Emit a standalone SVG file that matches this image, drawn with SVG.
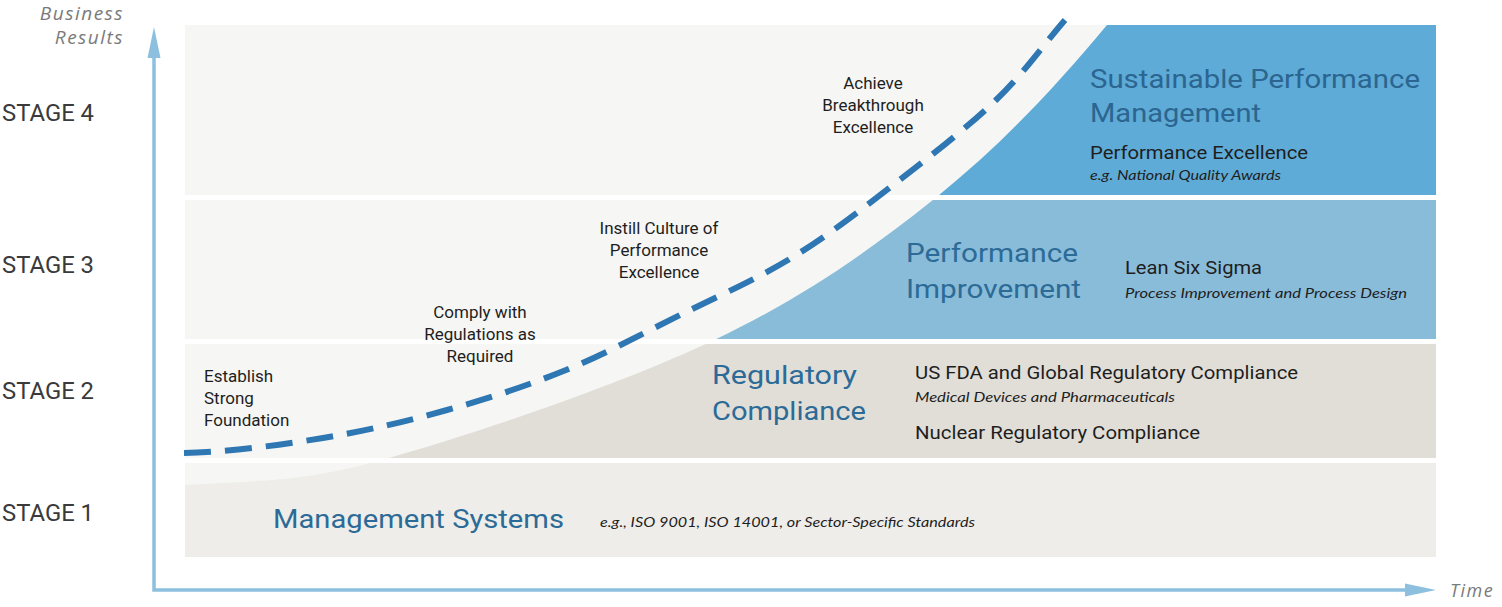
<svg xmlns="http://www.w3.org/2000/svg" width="1502" height="607" viewBox="0 0 1502 607">
<style>
.light{fill:#f6f6f4}
.din{font-family:Roboto,"Liberation Sans",sans-serif}
.stage{font-size:24px;fill:#3a3a3a}
.title{font-size:26px;fill:#2c6b97}
.lbl{font-size:17px;fill:#1e1e1e}
.sub{font-size:18px;fill:#1e1e1e}
.it{font-family:Lato,"Open Sans",sans-serif;font-style:italic;font-size:14px;fill:#1e1e1e}
.axl{font-family:"Open Sans",Lato,sans-serif;font-style:italic;font-size:19px;fill:#7a7a7a;letter-spacing:1.5px}
.ax{stroke:#8cc0de;stroke-width:3.5;fill:none}
.axh{fill:#8cc0de}
</style>
<defs>
<path id="region" d="M185,485 C250,480 292.3,484.4 380,460.5 C467.7,436.6 618.3,385.3 711,341.5 C803.7,297.7 870,250.25 936,197.5 C1002,144.75 1057,85 1107,25 L1160,-40 L1500,-40 L1500,600 L150,600 L150,485 Z"/>
<clipPath id="c4"><rect x="185" y="25" width="1251" height="170"/></clipPath>
<clipPath id="c3"><rect x="185" y="200" width="1251" height="139"/></clipPath>
<clipPath id="c2"><rect x="185" y="344" width="1251" height="114"/></clipPath>
<clipPath id="c1"><rect x="185" y="463" width="1251" height="94"/></clipPath>
</defs>
<rect width="1502" height="607" fill="#ffffff"/>

<g id="stage4">
<rect class="light" x="185" y="25" width="1251" height="170"/>
<use href="#region" fill="#5eabd7" clip-path="url(#c4)"/>
<text class="din stage" x="2" y="121" textLength="92" lengthAdjust="spacingAndGlyphs">STAGE 4</text>
<text class="din title" x="1090" y="88" fill="#2b6590" textLength="330" lengthAdjust="spacingAndGlyphs" style="fill:#2b6590">Sustainable Performance</text>
<text class="din title" x="1090" y="122" textLength="171" lengthAdjust="spacingAndGlyphs" style="fill:#2b6590">Management</text>
<text class="din sub" x="1090" y="159" textLength="218" lengthAdjust="spacingAndGlyphs">Performance Excellence</text>
<text class="it" x="1090" y="180" textLength="191" lengthAdjust="spacingAndGlyphs">e.g. National Quality Awards</text>
<text class="din lbl" x="873" y="89" text-anchor="middle">Achieve</text>
<text class="din lbl" x="873" y="111" text-anchor="middle">Breakthrough</text>
<text class="din lbl" x="873" y="133" text-anchor="middle">Excellence</text>
</g>

<g id="stage3">
<rect class="light" x="185" y="200" width="1251" height="139"/>
<use href="#region" fill="#89bcd9" clip-path="url(#c3)"/>
<text class="din stage" x="2" y="273" textLength="92" lengthAdjust="spacingAndGlyphs">STAGE 3</text>
<text class="din title" x="906" y="262" textLength="172" lengthAdjust="spacingAndGlyphs">Performance</text>
<text class="din title" x="906" y="298" textLength="175" lengthAdjust="spacingAndGlyphs">Improvement</text>
<text class="din sub" x="1125" y="274" textLength="137" lengthAdjust="spacingAndGlyphs">Lean Six Sigma</text>
<text class="it" x="1125" y="298" textLength="282" lengthAdjust="spacingAndGlyphs">Process Improvement and Process Design</text>
<text class="din lbl" x="659" y="234" text-anchor="middle">Instill Culture of</text>
<text class="din lbl" x="659" y="256" text-anchor="middle">Performance</text>
<text class="din lbl" x="659" y="278" text-anchor="middle">Excellence</text>
<text class="din lbl" x="480" y="318" text-anchor="middle">Comply with</text>
</g>

<g id="stage2">
<rect class="light" x="185" y="344" width="1251" height="114"/>
<use href="#region" fill="#e1ded8" clip-path="url(#c2)"/>
<text class="din stage" x="2" y="399" textLength="92" lengthAdjust="spacingAndGlyphs">STAGE 2</text>
<text class="din title" x="712" y="384" textLength="145" lengthAdjust="spacingAndGlyphs">Regulatory</text>
<text class="din title" x="712" y="420" textLength="154" lengthAdjust="spacingAndGlyphs">Compliance</text>
<text class="din sub" x="915" y="379" textLength="383" lengthAdjust="spacingAndGlyphs">US FDA and Global Regulatory Compliance</text>
<text class="it" x="915" y="402" textLength="260" lengthAdjust="spacingAndGlyphs">Medical Devices and Pharmaceuticals</text>
<text class="din sub" x="915" y="439" textLength="285" lengthAdjust="spacingAndGlyphs">Nuclear Regulatory Compliance</text>
<text class="din lbl" x="480" y="340" text-anchor="middle">Regulations as</text>
<text class="din lbl" x="480" y="362" text-anchor="middle">Required</text>
<text class="din lbl" x="204" y="382">Establish</text>
<text class="din lbl" x="204" y="404">Strong</text>
<text class="din lbl" x="204" y="426">Foundation</text>
</g>

<g id="stage1">
<rect class="light" x="185" y="463" width="1251" height="94"/>
<use href="#region" fill="#eeede9" clip-path="url(#c1)"/>
<text class="din stage" x="2" y="521" textLength="92" lengthAdjust="spacingAndGlyphs">STAGE 1</text>
<text class="din title" x="273" y="528" textLength="291" lengthAdjust="spacingAndGlyphs">Management Systems</text>
<text class="it" x="600" y="527" textLength="375" lengthAdjust="spacingAndGlyphs">e.g., ISO 9001, ISO 14001, or Sector-Specific Standards</text>
</g>

<g id="connectors">
<path d="M184,453 C230.3,451.7 279.2,445.2 323,438 C366.8,430.8 406.5,421.3 447,410 C487.5,398.7 527.2,385.8 566,370 C604.8,354.2 642.2,333.8 680,315 C717.8,296.2 756.8,279.2 793,257 C829.2,234.8 863.2,208.2 897,182 C930.8,155.8 968,127 996,100 C1024,73 1042,46.7 1065,20" fill="none" stroke="#2e77b3" stroke-width="6" stroke-dasharray="27 14"/>
</g>

<g id="axes">
<path class="ax" d="M154,56 L154,590 L1406,590"/>
<path class="axh" d="M154,27 L147.5,58 L160.5,58 Z"/>
<path class="axh" d="M1436,590 L1405,583.5 L1405,596.5 Z"/>
<text class="axl" x="124" y="20" text-anchor="end">Business</text>
<text class="axl" x="124" y="44" text-anchor="end">Results</text>
<text class="axl" x="1450" y="597" style="font-size:18px">Time</text>
</g>
</svg>
